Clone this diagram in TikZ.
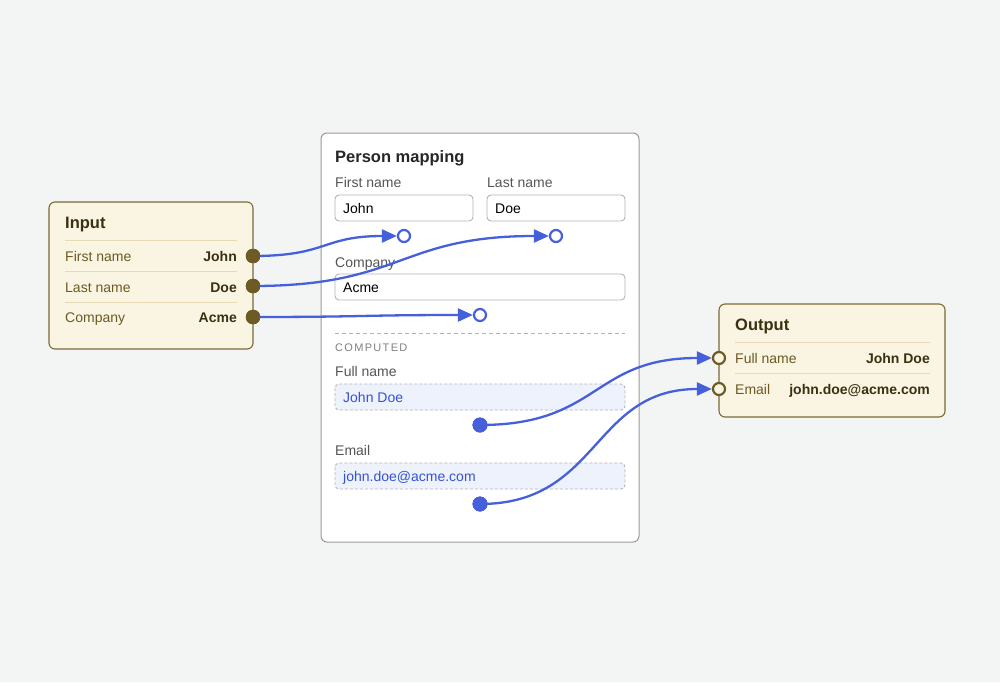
\documentclass[tikz,border=0pt]{standalone}
\usepackage{fontspec}
\setmainfont{Liberation Sans}
\usetikzlibrary{arrows.meta}
\definecolor{bg}{HTML}{F3F5F4}
\definecolor{cream}{HTML}{FAF4E3}
\definecolor{olive}{HTML}{7A6A34}
\definecolor{olivetxt}{HTML}{6B5A22}
\definecolor{darkolive}{HTML}{3A3110}
\definecolor{sepcol}{HTML}{E5DAB4}
\definecolor{portolive}{HTML}{6E5A24}
\definecolor{blu}{HTML}{4560DA}
\definecolor{blutxt}{HTML}{3552D6}
\definecolor{panelborder}{HTML}{9A9A9A}
\definecolor{fieldborder}{HTML}{B4B4B4}
\definecolor{compfill}{HTML}{EEF2FD}
\definecolor{labgray}{HTML}{555555}
\begin{document}
\begin{tikzpicture}[x=1pt,y=-1pt,
  card/.style={draw=olive, fill=cream, line width=1.1pt, rounded corners=6pt},
  panel/.style={draw=panelborder, fill=white, line width=1pt, rounded corners=6pt},
  field/.style={draw=fieldborder, fill=white, line width=0.9pt, rounded corners=4pt},
  cfield/.style={draw=fieldborder, fill=compfill, line width=0.9pt, dashed, dash pattern=on 3pt off 2pt, rounded corners=4pt},
  sep/.style={draw=sepcol, line width=0.9pt},
  ttl/.style={anchor=base west, inner sep=0pt, font=\fontsize{16.5}{18}\selectfont\bfseries},
  lab/.style={anchor=base west, inner sep=0pt, font=\fontsize{14}{16}\selectfont},
  val/.style={anchor=base east, inner sep=0pt, font=\fontsize{14}{16}\selectfont\bfseries, text=darkolive},
  inport/.style={circle, fill=portolive, draw=portolive, minimum size=14pt, inner sep=0pt},
  outport/.style={circle, fill=cream, draw=portolive, line width=2.2pt, minimum size=12pt, inner sep=0pt},
  tport/.style={circle, fill=white, draw=blu, line width=2.2pt, minimum size=12pt, inner sep=0pt},
  sport/.style={circle, fill=blu, draw=blu, minimum size=14.5pt, inner sep=0pt},
  wire/.style={draw=blu, line width=2.3pt, -{Triangle[length=15pt,width=13pt]}},
]
\useasboundingbox[fill=bg] (0,0) rectangle (1000,682);

% Input card
\draw[card] (49,202) rectangle (253,349);
\node[ttl, text=darkolive] (inT) at (65,228) {Input};
\draw[sep] (65,240) -- (237,240);
\draw[sep] (65,271) -- (237,271);
\draw[sep] (65,302) -- (237,302);
\node[lab, text=olivetxt] (inL1) at (65,261) {First name};
\node[val] (inV1) at (237,261) {John};
\node[lab, text=olivetxt] (inL2) at (65,292) {Last name};
\node[val] (inV2) at (237,292) {Doe};
\node[lab, text=olivetxt] (inL3) at (65,322) {Company};
\node[val] (inV3) at (237,322) {Acme};

% Person mapping panel
\draw[panel] (321,133) rectangle (639,542);
\node[ttl, text=black!85] (pmT) at (335,162) {Person mapping};
\node[lab, text=labgray] (fnL) at (335,187) {First name};
\node[lab, text=labgray] (lnL) at (487,187) {Last name};
\draw[field] (335,195) rectangle (473,221);
\draw[field] (487,195) rectangle (625,221);
\node[lab, text=black] (fnV) at (343,213) {John};
\node[lab, text=black] (lnV) at (495,213) {Doe};
\node[lab, text=labgray] (coL) at (335,267) {Company};
\draw[field] (335,274) rectangle (625,300);
\node[lab, text=black] (coV) at (343,292) {Acme};
\draw[draw=fieldborder, line width=0.9pt, dash pattern=on 4pt off 3pt] (335,333) -- (625,333);
\node[anchor=base west, inner sep=0pt, text=black!50, font=\fontsize{11}{13}\selectfont\addfontfeatures{LetterSpace=12}] (compL) at (335,351) {COMPUTED};
\node[lab, text=labgray] (fuL) at (335,376) {Full name};
\draw[cfield] (335,384) rectangle (625,410);
\node[lab, text=blutxt] (fuV) at (343,402) {John Doe};
\node[lab, text=labgray] (emL) at (335,455) {Email};
\draw[cfield] (335,463) rectangle (625,489);
\node[lab, text=blutxt] (emV) at (343,481) {john.doe@acme.com};

% Output card
\draw[card] (719,304) rectangle (945,417);
\node[ttl, text=darkolive] (outT) at (735,330) {Output};
\draw[sep] (735,342) -- (930,342);
\draw[sep] (735,373) -- (930,373);
\node[lab, text=olivetxt] (outL1) at (735,363) {Full name};
\node[val] (outV1) at (930,363) {John Doe};
\node[lab, text=olivetxt] (outL2) at (735,394) {Email};
\node[val] (outV2) at (930,394) {john.doe@acme.com};

% ports
\node[inport] (i1) at (253,256) {};
\node[inport] (i2) at (253,286) {};
\node[inport] (i3) at (253,317) {};
\node[tport] (t1) at (404,236) {};
\node[tport] (t2) at (556,236) {};
\node[tport] (t3) at (480,315) {};
\node[sport] (s1) at (480,425) {};
\node[sport] (s2) at (480,504) {};
\node[outport] (o1) at (719,358) {};
\node[outport] (o2) at (719,389) {};

% wires
\draw[wire] (i1.center) .. controls +(75,0) and +(-75,0) .. (t1.west);
\draw[wire] (i2.center) .. controls +(150,0) and +(-150,0) .. (t2.west);
\draw[wire] (i3.center) .. controls +(110,0) and +(-110,0) .. (t3.west);
\draw[wire] (s1.center) .. controls +(120,0) and +(-120,0) .. (o1.west);
\draw[wire] (s2.center) .. controls +(120,0) and +(-120,0) .. (o2.west);

% redraw port dots on top
\node[inport] at (i1) {};
\node[inport] at (i2) {};
\node[inport] at (i3) {};
\node[sport] at (s1) {};
\node[sport] at (s2) {};
\end{tikzpicture}
\end{document}
